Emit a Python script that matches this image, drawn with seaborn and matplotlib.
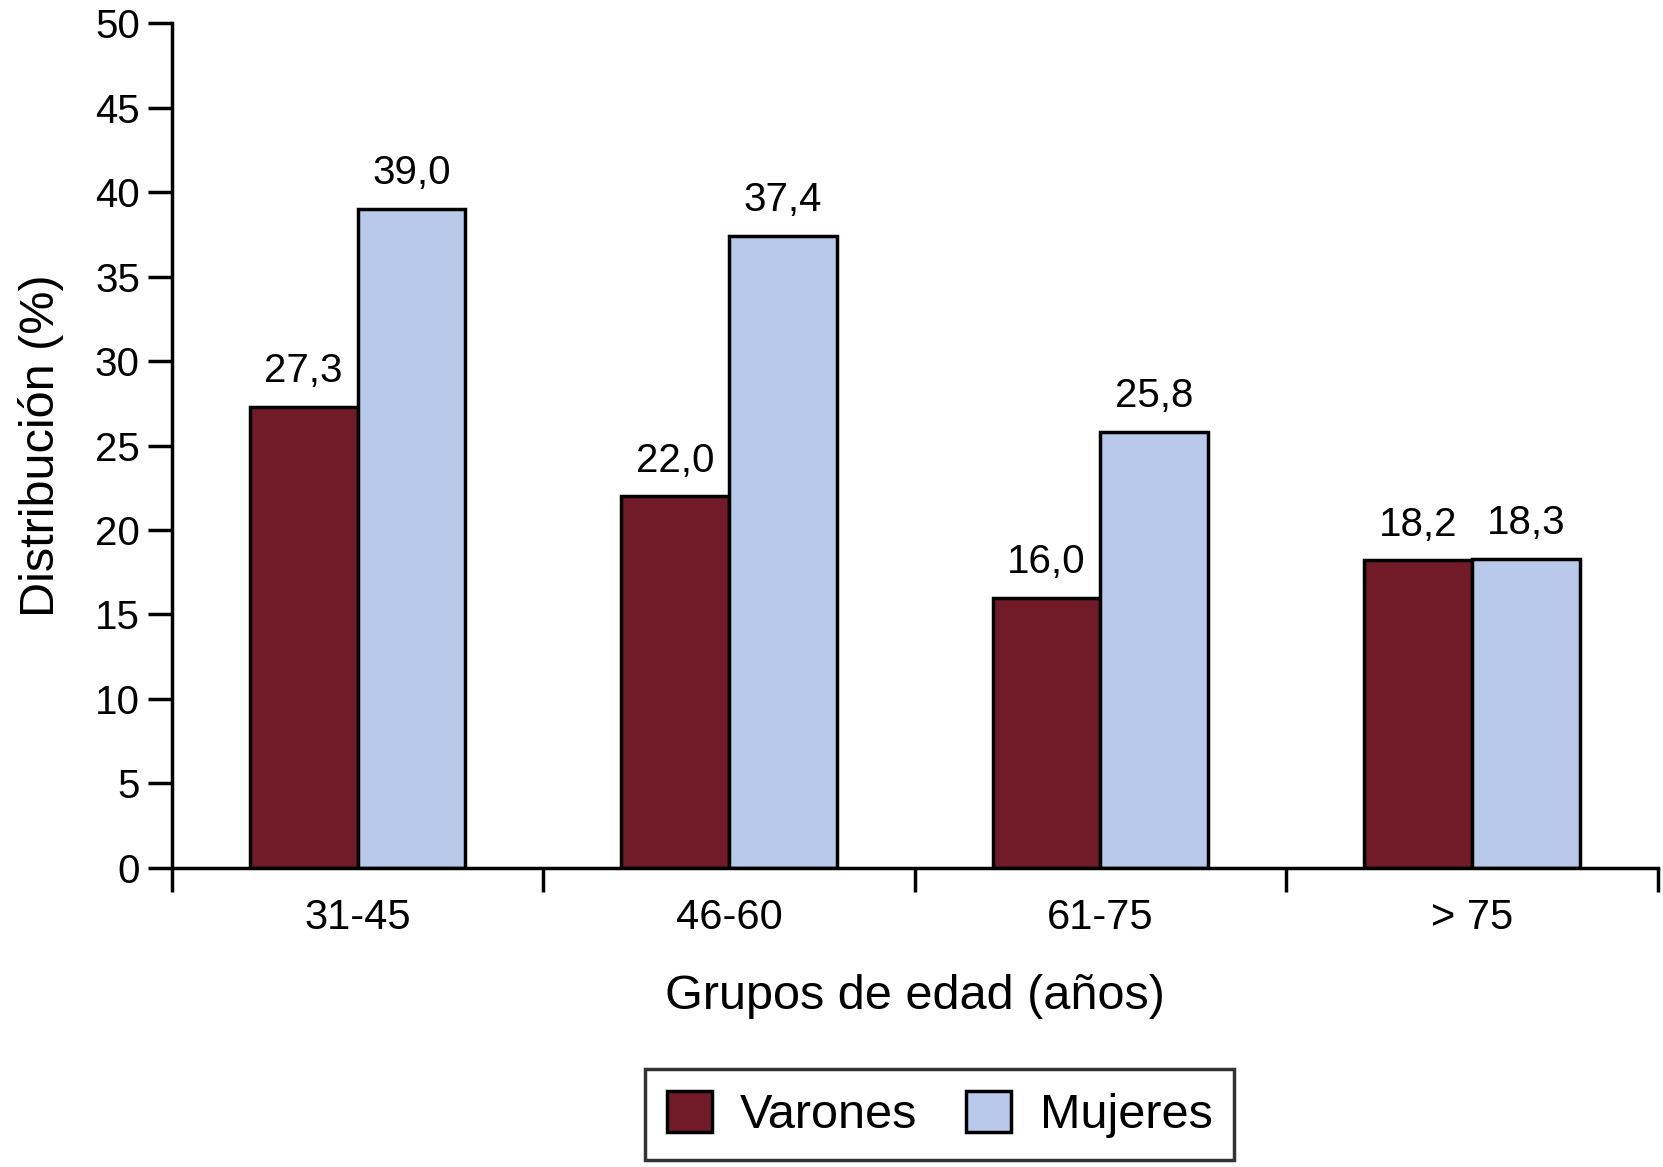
import pandas as pd
import numpy as np
import matplotlib.pyplot as plt
import seaborn as sns
from matplotlib.patches import Patch

# Data
grupos = ["31-45", "46-60", "61-75", "> 75"]
varones = [27.3, 22.0, 16.0, 18.2]
mujeres = [39.0, 37.4, 25.8, 18.3]
series = ["Varones", "Mujeres"]
colores = ["#701b27", "#b9c9e9"]

df = pd.DataFrame({
    "grupo": grupos * 2,
    "sexo": ["Varones"] * 4 + ["Mujeres"] * 4,
    "valor": varones + mujeres,
})

sns.set_style("white")
plt.rcParams['font.family'] = ['Liberation Sans', 'DejaVu Sans']
plt.rcParams['text.color'] = 'black'
plt.rcParams['axes.labelcolor'] = 'black'
plt.rcParams['xtick.color'] = 'black'
plt.rcParams['ytick.color'] = 'black'

fig = plt.figure(figsize=(16.63, 11.67), dpi=100)
ax = fig.add_axes([0.1033, 0.2564, 0.8935, 0.7236])

sns.barplot(data=df, x="grupo", y="valor", hue="sexo", hue_order=series,
            palette=colores, width=0.58, edgecolor="black", linewidth=2.5,
            saturation=1, legend=False, ax=ax)

# value labels above bars
for cont in ax.containers:
    labels = [f"{v:.1f}".replace(".", ",") for v in cont.datavalues]
    ax.bar_label(cont, labels=labels, padding=12, fontsize=29, color="black")

ax.set_xlim(-0.5, 3.5)
ax.set_ylim(0, 50)
ax.set_yticks(np.arange(0, 51, 5))
ax.tick_params(axis="y", left=True, labelsize=29, length=17, width=2.5,
               direction="out", pad=6, colors="black")

# ticks at group boundaries, labels centered under groups
ax.set_xticks(np.arange(-0.5, 4, 1))
ax.set_xticklabels([])
ax.set_xticks(range(4), minor=True)
ax.set_xticklabels(grupos, minor=True)
ax.tick_params(axis="x", which="major", bottom=True, length=17, width=2.5,
               direction="out", colors="black")
ax.tick_params(axis="x", which="minor", bottom=True, length=0, labelsize=30,
               pad=22, colors="black")

for s in ["top", "right"]:
    ax.spines[s].set_visible(False)
for s in ["left", "bottom"]:
    ax.spines[s].set_linewidth(2.5)
    ax.spines[s].set_color("black")

ax.set_xlabel("Grupos de edad (años)", fontsize=35, labelpad=26)
ax.set_ylabel("Distribución (%)", fontsize=35, labelpad=22)

handles = [Patch(facecolor=c, edgecolor="black", linewidth=2.5, label=s)
           for s, c in zip(series, colores)]
leg = fig.legend(handles=handles, loc="center", bbox_to_anchor=(0.565, 0.045),
                 ncol=2, fontsize=35, frameon=True, fancybox=False,
                 edgecolor="black", handlelength=0.93, handleheight=0.93,
                 columnspacing=1.0, handletextpad=0.58, borderpad=0.45,
                 borderaxespad=0)
leg.get_frame().set_linewidth(2.5)

fig.savefig("out.png", dpi=100, facecolor="white")
